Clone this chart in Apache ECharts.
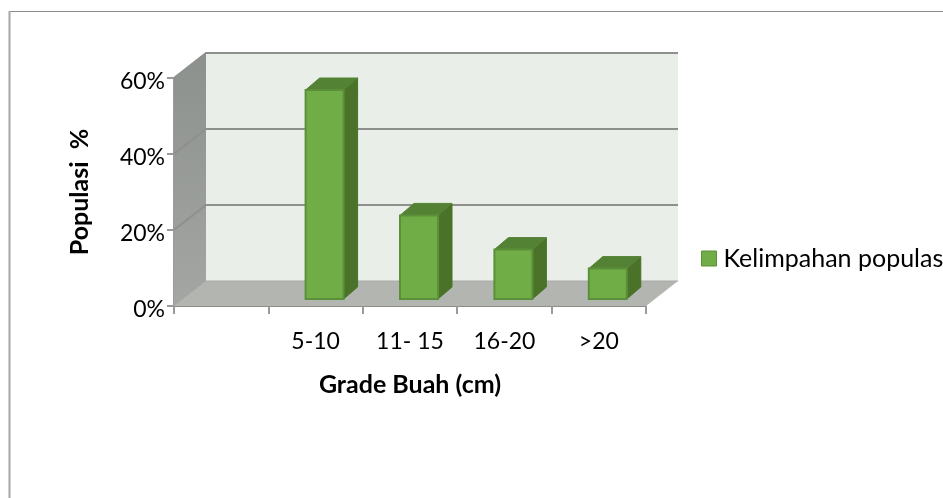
<!DOCTYPE html>
<html>
<head>
<meta charset="utf-8">
<style>
  html, body { margin: 0; padding: 0; background: #fff; }
  #chart { width: 943px; height: 498px; }
</style>
<script src="https://cdn.jsdelivr.net/npm/echarts@6/dist/echarts.min.js"></script>
</head>
<body>
<div id="chart"></div>
<script>
const categories = ['', '5-10', '11- 15', '16-20', '>20']
const values = [null, 55, 22, 13, 8]
const yTicks = [0, 20, 40, 60]
const seriesName = 'Kelimpahan populas'

// depth of the 3d box
const depthX = 32
const depthY = 25
const barDepthX = 14
const barDepthY = 12
const barWidth = 38
const barShiftX = 9
const barShiftY = 7

const font = 'Lato, Carlito, sans-serif'
const myChart = echarts.init(document.getElementById('chart'), null, { renderer: 'canvas' })

function poly(points, fill, stroke, lineWidth) {
  return {
    type: 'polygon',
    shape: { points: points },
    style: { fill: fill, stroke: stroke || null, lineWidth: lineWidth || 0 }
  }
}

// side wall, floor and back wall
function renderWalls(params) {
  const r = params.coordSys
  const l = r.x, t = r.y, w = r.width, h = r.height, b = t + h
  return {
    type: 'group',
    children: [
      poly([[l + depthX, t - depthY], [l + w + depthX, t - depthY], [l + w + depthX, b - depthY], [l + depthX, b - depthY]], '#e9efe8'),
      poly([[l, t], [l + depthX, t - depthY], [l + depthX, b - depthY], [l, b]], {
        type: 'linear', x: 0, y: 0, x2: 0, y2: 1,
        colorStops: [{ offset: 0, color: '#8d918d' }, { offset: 1, color: '#a3a6a2' }]
      }),
      poly([[l, b], [l + depthX, b - depthY], [l + w + depthX, b - depthY], [l + w, b]], '#b2b5b0')
    ]
  }
}

// grid lines run along the side wall and then across the back wall
function renderGridLine(params, api) {
  const r = params.coordSys
  const y = api.coord([0, api.value(1)])[1]
  return {
    type: 'polyline',
    shape: {
      points: [[r.x, y], [r.x + depthX, y - depthY], [r.x + r.width + depthX, y - depthY]]
    },
    style: { stroke: api.value(1) === 0 ? '#a8aaa7' : '#8e908e', lineWidth: api.value(1) === 0 ? 1 : 2, fill: null }
  }
}

function renderBar(params, api) {
  const base = api.coord([api.value(0), 0])
  const top = api.coord([api.value(0), api.value(1)])
  const x1 = base[0] + barShiftX - barWidth / 2
  const x2 = x1 + barWidth
  const y1 = top[1] - barShiftY
  const y2 = base[1] - barShiftY
  return {
    type: 'group',
    children: [
      poly([[x2, y1], [x2 + barDepthX, y1 - barDepthY], [x2 + barDepthX, y2 - barDepthY], [x2, y2]], '#4a7229', '#4a7229', 1),
      poly([[x1, y1], [x1 + barDepthX, y1 - barDepthY], [x2 + barDepthX, y1 - barDepthY], [x2, y1]], '#548235', '#548235', 1),
      poly([[x1, y1], [x2, y1], [x2, y2], [x1, y2]], '#70ad47', '#5c8f39', 2)
    ]
  }
}

const barData = values.map((v, i) => [i, v]).filter(d => d[1] !== null)

myChart.setOption({
  animation: false,
  backgroundColor: '#fff',
  graphic: [
    { type: 'line', silent: true, shape: { x1: 9, y1: 11.5, x2: 943, y2: 11.5 }, style: { stroke: '#8c8c8c', lineWidth: 1 } },
    { type: 'line', silent: true, shape: { x1: 9.5, y1: 11, x2: 9.5, y2: 498 }, style: { stroke: '#a6a6a6', lineWidth: 2 } }
  ],
  grid: { left: 174, top: 78, width: 472, height: 228 },
  legend: {
    data: [seriesName],
    left: 701,
    top: 246,
    padding: 0,
    icon: 'rect',
    itemWidth: 15,
    itemHeight: 15,
    itemStyle: { color: '#70ad47', borderColor: '#5c8f39', borderWidth: 1 },
    textStyle: { fontFamily: font, fontSize: 25, color: '#000', padding: [0, 0, 0, 2] }
  },
  xAxis: {
    type: 'category',
    data: categories,
    name: 'Grade Buah (cm)',
    nameLocation: 'middle',
    nameGap: 66,
    nameTextStyle: { fontFamily: font, fontSize: 25, fontWeight: 'bold', color: '#000' },
    axisLine: { lineStyle: { color: '#8c8c8c', width: 2 } },
    axisTick: { show: true, length: 8, alignWithLabel: false, lineStyle: { color: '#9a9a9a', width: 2 } },
    axisLabel: { interval: 0, fontFamily: font, fontSize: 23, color: '#000', margin: 24 },
    splitLine: { show: false }
  },
  yAxis: {
    type: 'value',
    min: 0,
    max: 60,
    interval: 20,
    name: 'Populasi  %',
    nameLocation: 'middle',
    nameGap: 82,
    nameTextStyle: { fontFamily: font, fontSize: 25, fontWeight: 'bold', color: '#000' },
    axisLine: { show: true, lineStyle: { color: '#9a9a9a', width: 2 } },
    axisTick: { show: true, length: 7, lineStyle: { color: '#9a9a9a', width: 2 } },
    axisLabel: {
      margin: 9,
      formatter: '{a|{value}%}',
      rich: { a: { fontFamily: font, fontSize: 23, color: '#000', padding: [7, 0, 0, 0] } }
    },
    splitLine: { show: false }
  },
  series: [
    { type: 'custom', silent: true, z: 1, renderItem: renderWalls, data: [[0, 0]] },
    { type: 'custom', silent: true, z: 2, renderItem: renderGridLine, data: yTicks.map(v => [0, v]) },
    {
      name: seriesName,
      type: 'custom',
      z: 3,
      itemStyle: { color: '#70ad47' },
      renderItem: renderBar,
      encode: { x: 0, y: 1 },
      data: barData
    }
  ]
})
</script>
</body>
</html>
